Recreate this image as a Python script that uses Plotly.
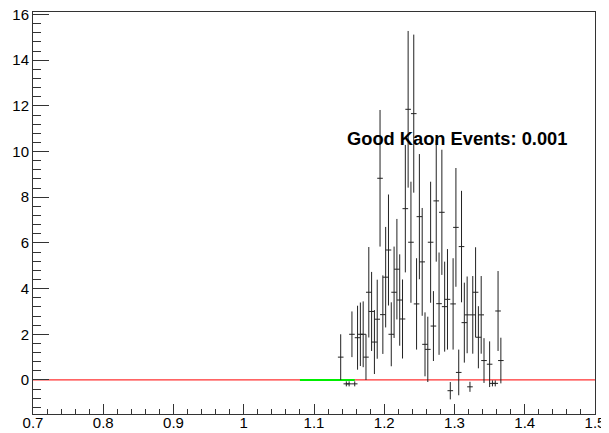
import plotly.graph_objects as go

# Histogram definition: 200 bins from 0.7 to 1.5
hist_lo = 0.7
hist_hi = 1.5
n_bins = 200
first_bin = 109  # index of first listed bin (0-based)

# Bin contents (None = empty bin, not drawn)
counts = [1.0, None, -0.17, -0.17, 2.0, -0.17, 1.85, 2.0, 2.0, 1.0,
          3.84, 3.0, 1.66, 2.66, 8.83, 2.86, 4.5, 5.69, 2.0, 3.84,
          4.85, 3.5, 2.67, 7.5, 11.85, 6.03, 11.66, 3.33, 7.15, 5.17,
          1.56, 1.34, 6.03, 2.36, 7.84, 3.34, 7.34, 3.21, 3.53, -0.47,
          3.33, 6.68, 0.33, 5.84, 2.51, 2.85, -0.3, 2.85, 3.84, 1.87,
          2.85, 0.85, None, 0.69, -0.15, -0.15, 3.02, 0.85]
errors = [1.0, None, 0.11, 0.11, 1.0, 0.11, 1.4, 1.39, 1.44, 1.0,
          1.98, 1.73, 1.4, 1.73, 2.99, 1.72, 2.2, 2.43, 1.4, 2.0,
          2.2, 2.0, 1.73, 2.79, 3.43, 2.65, 3.46, 2.0, 2.74, 2.36,
          1.4, 1.43, 2.65, 1.53, 2.66, 2.24, 2.74, 1.97, 2.2, 0.38,
          2.0, 2.6, 1.0, 2.44, 1.75, 1.68, 0.22, 1.7, 1.97, 1.36,
          1.7, 0.98, None, 1.0, 0.13, 0.13, 1.75, 1.0]

# Reference lines
zero_line_x = [0.7, 1.5]
zero_line_y = [0, 0]
green_x = [1.08, 1.158]
green_y = [0, 0]

annotation_text = "Good Kaon Events: 0.001"

bin_w = (hist_hi - hist_lo) / n_bins
xs, ys, es = [], [], []
for i, (c, e) in enumerate(zip(counts, errors)):
    if c is None:
        continue
    xs.append(hist_lo + (first_bin + i + 0.5) * bin_w)
    ys.append(c)
    es.append(e)

fig = go.Figure()
fig.add_trace(go.Scatter(x=zero_line_x, y=zero_line_y, mode="lines",
                         line=dict(color="#ff3030", width=1.2), hoverinfo="skip"))
fig.add_trace(go.Scatter(x=green_x, y=green_y, mode="lines",
                         line=dict(color="#00ee00", width=2), hoverinfo="skip"))
fig.add_trace(go.Scatter(
    x=xs, y=ys, mode="markers",
    marker=dict(symbol="line-ew", size=4, color="#222",
                line=dict(width=1, color="#222")),
    error_y=dict(type="data", array=es, visible=True, thickness=1,
                 width=0, color="#222"),
))

fig.add_annotation(text="<b>" + annotation_text + "</b>",
                   xref="paper", yref="paper", x=0.555, y=0.686,
                   xanchor="left", yanchor="middle", showarrow=False,
                   font=dict(family="Liberation Sans, Arial, sans-serif",
                             size=18.3, color="black"))

axis_common = dict(showgrid=False, zeroline=False, showline=True,
                   linecolor="#333", linewidth=1, mirror=True,
                   automargin=False, ticklabeloverflow="allow",
                   ticks="inside", tickcolor="#333", tickwidth=1,
                   tickfont=dict(family="Liberation Sans, Arial, sans-serif",
                                 size=15, color="black"))

# Page body has an 8px default margin, so the figure is sized to fit the window
fig.update_layout(
    width=601, height=425,
    margin=dict(l=25, r=14, t=4, b=19),
    paper_bgcolor="white", plot_bgcolor="white",
    showlegend=False,
    xaxis=dict(range=[0.7, 1.5], dtick=0.1, tick0=0.7, ticklen=10,
               ticklabelstandoff=-5,
               minor=dict(ticks="inside", ticklen=5, dtick=0.02, tick0=0.7,
                          tickcolor="#333", tickwidth=1),
               **axis_common),
    yaxis=dict(range=[-1.49, 16.11], dtick=2, tick0=0, ticklen=16,
               minor=dict(ticks="inside", ticklen=8, dtick=0.4, tick0=0,
                          tickcolor="#333", tickwidth=1),
               **axis_common),
)

fig.write_html("out.html")
